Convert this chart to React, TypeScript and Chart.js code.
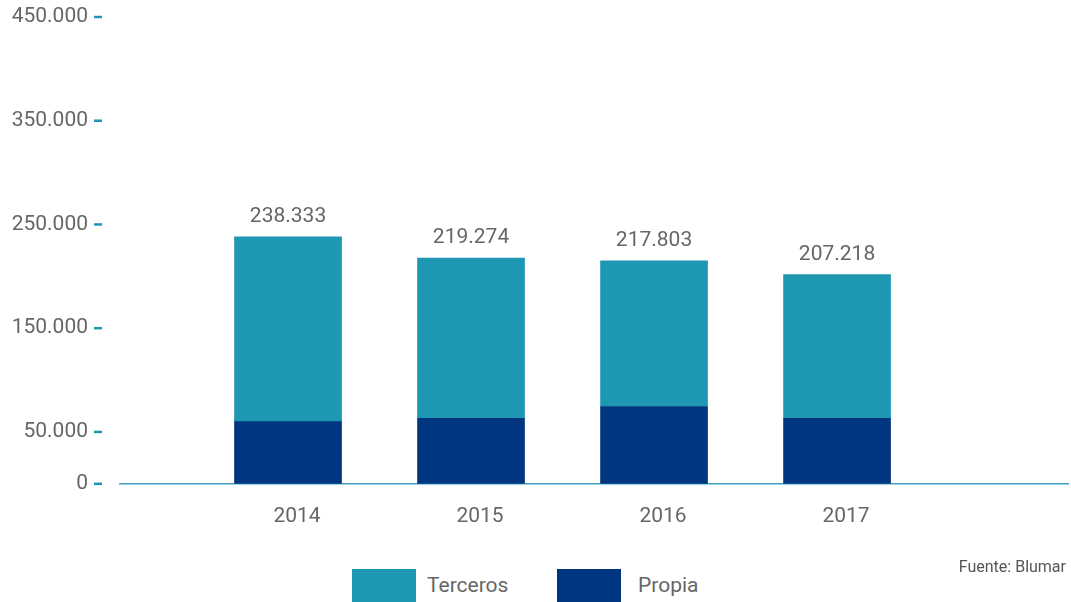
import React, { useEffect, useRef } from "react";
import { Chart, registerables } from "chart.js";

Chart.register(...registerables);

const years = [2014, 2015, 2016, 2017];
const propia = [60000, 63000, 74500, 63000];
const terceros = [178000, 154500, 140500, 138800];
const totalLabels = ["238.333", "219.274", "217.803", "207.218"];
const yTicks = [0, 50000, 150000, 250000, 350000, 450000];

const TEAL = "#1e97b2";
const NAVY = "#00367f";
const TEXT = "#666666";
const FONT = "Roboto, 'Noto Sans', sans-serif";

const fmt = (v: number) => String(Math.round(v)).replace(/\B(?=(\d{3})+(?!\d))/g, ".");

export default function App() {
  const ref = useRef<HTMLCanvasElement | null>(null);

  useEffect(() => {
    if (!ref.current) return;
    const labelsPlugin = {
      id: "totals",
      afterDatasetsDraw(chart: any) {
        const ctx = chart.ctx;
        const meta = chart.getDatasetMeta(1);
        ctx.save();
        ctx.font = `21px ${FONT}`;
        ctx.fillStyle = TEXT;
        ctx.textAlign = "center";
        ctx.textBaseline = "middle";
        meta.data.forEach((el: any, i: number) => {
          ctx.fillText(totalLabels[i], el.x, el.y - 20);
        });
        ctx.restore();
      },
      afterDraw(chart: any) {
        const ctx = chart.ctx;
        const y = chart.scales.y;
        ctx.save();
        ctx.strokeStyle = TEAL;
        ctx.lineWidth = 2.5;
        y.ticks.forEach((t: any) => {
          const py = y.getPixelForValue(t.value);
          ctx.beginPath();
          ctx.moveTo(94, py);
          ctx.lineTo(102, py);
          ctx.stroke();
        });
        ctx.restore();
      },
    };

    const chart = new Chart(ref.current, {
      type: "bar",
      data: {
        datasets: [
          {
            label: "Propia",
            data: years.map((x, i) => ({ x, y: propia[i] })),
            backgroundColor: NAVY,
            barThickness: 107,
          },
          {
            label: "Terceros",
            data: years.map((x, i) => ({ x, y: terceros[i] })),
            backgroundColor: TEAL,
            barThickness: 107,
          },
        ],
      },
      options: {
        animation: false,
        responsive: false,
        maintainAspectRatio: false,
        layout: { padding: { top: 17, right: 3, bottom: 13, left: 0 } },
        plugins: { legend: { display: false }, tooltip: { enabled: false } },
        scales: {
          x: {
            type: "linear",
            stacked: true,
            offset: false,
            min: 2013.082,
            max: 2018.262,
            afterBuildTicks: (s: any) => {
              s.ticks = years.map((v) => ({ value: v }));
            },
            grid: { display: false, drawTicks: false },
            border: { display: true, color: "#3d9dc4", width: 1.5 },
            ticks: {
              padding: 20,
              labelOffset: 9,
              color: TEXT,
              font: { family: FONT, size: 21 },
              callback: (v: any) => String(v),
            },
          },
          y: {
            stacked: true,
            min: 0,
            max: 450000,
            afterBuildTicks: (s: any) => {
              s.ticks = yTicks.map((v) => ({ value: v }));
            },
            afterFit: (s: any) => {
              s.width = 120;
              s.paddingTop = 0;
              s.paddingBottom = 0;
            },
            grid: { display: false, drawTicks: false },
            border: { display: false },
            ticks: {
              padding: 32,
              color: TEXT,
              font: { family: FONT, size: 21 },
              callback: (v: any) => fmt(Number(v)),
            },
          },
        },
      },
      plugins: [labelsPlugin],
    } as any);
    return () => chart.destroy();
  }, []);

  const legendText: React.CSSProperties = {
    position: "absolute",
    fontFamily: FONT,
    fontSize: 21,
    color: TEXT,
    lineHeight: "34px",
    top: 568,
  };

  return (
    <div style={{ position: "fixed", left: 0, top: 0, width: 1071, height: 602, background: "#fff", overflow: "hidden" }}>
      <canvas ref={ref} width={1071} height={562} style={{ position: "absolute", left: 0, top: 0, width: 1071, height: 562 }} />
      <div style={{ position: "absolute", left: 352, top: 569, width: 64, height: 34, background: TEAL }} />
      <div style={{ ...legendText, left: 427 }}>Terceros</div>
      <div style={{ position: "absolute", left: 557, top: 569, width: 64, height: 34, background: NAVY }} />
      <div style={{ ...legendText, left: 638 }}>Propia</div>
      <div
        style={{
          position: "absolute",
          right: 5,
          top: 556,
          fontFamily: FONT,
          fontSize: 16,
          color: "#555",
          lineHeight: "22px",
        }}
      >
        Fuente: Blumar
      </div>
    </div>
  );
}
